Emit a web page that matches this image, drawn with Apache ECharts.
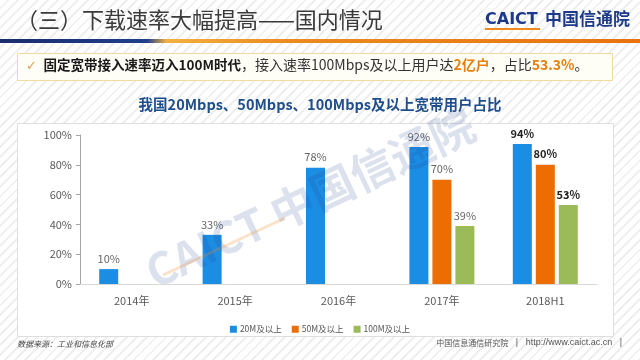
<!DOCTYPE html>
<html><head><meta charset="utf-8">
<script src="https://cdn.jsdelivr.net/npm/echarts@6/dist/echarts.min.js"></script>
<style>
html,body{margin:0;padding:0;width:640px;height:360px;overflow:hidden;
background:repeating-linear-gradient(135deg,#ffffff 0px,#ffffff 5px,#efefef 5px,#efefef 7px);}
#c{width:640px;height:360px;}
</style></head><body>
<div id="c"></div>
<script>
var categories = ['2014年','2015年','2016年','2017年','2018H1'];
var seriesNames = ['20M及以上','50M及以上','100M及以上'];
var v20 = [10, 33, 78, 92, 94];
var v50 = [null, null, null, 70, 80];
var v100 = [null, null, null, 39, 53];
var yTicks = [0, 20, 40, 60, 80, 100];
var colors = ['#1b8de3', '#ee6d02', '#9bbb59'];
var FF = '"Noto Sans CJK SC","Noto Sans",sans-serif';

function mk(arr){
  return arr.map(function(v,i){
    if(v===null) return null;
    var it = {value:v};
    if(i===arr.length-1){ it.label={fontWeight:'bold',color:'#222'}; }
    return it;
  });
}
var chart = echarts.init(document.getElementById('c'));
var lbl = {show:true,position:'top',distance:5,formatter:'{c}%',fontSize:11,color:'#666',fontFamily:FF};
chart.setOption({
  backgroundColor:'transparent',
  animation:false,
  color:colors,
  graphic:[
    {type:'text',left:16,top:9,z:10,style:{text:'（三）下载速率大幅提高——国内情况',fontSize:22,fill:'#3a3a3a',fontFamily:FF}},
    {type:'text',left:485,top:12,z:10,style:{text:'CAICT',fontSize:16,fontWeight:'bold',fill:'#1d3a8a',fontFamily:'"DejaVu Sans",sans-serif'}},
    {type:'rect',left:485,top:28,z:10,shape:{width:55,height:2},style:{fill:'#f08a1c'}},
    {type:'text',left:545,top:10,z:10,style:{text:'中国信通院',fontSize:17,fontWeight:'bold',fill:'#1d3a8a',fontFamily:FF}},
    {type:'rect',left:0,top:39,z:10,shape:{width:640,height:4},style:{fill:new echarts.graphic.LinearGradient(0,0,1,0,[
      {offset:0,color:'#1a2d6e'},{offset:0.23,color:'#1f3f8c'},{offset:0.26,color:'#f2b040'},{offset:0.45,color:'#ec8a22'},{offset:1,color:'#e8730f'}])}},
    {type:'rect',left:17,top:53,z:5,shape:{width:595,height:27},style:{fill:'#fffef6',stroke:'#f2dc9c',lineWidth:1}},
    {type:'text',left:26,top:58,z:10,style:{
      text:'{c|✓}  {b|固定宽带接入速率迈入100M时代}{n|，接入速率100Mbps及以上用户达}{o|2亿户}{n|，占比}{o|53.3%}{n|。}',
      rich:{
        c:{fontSize:13,fill:'#e0a050',fontFamily:'"DejaVu Sans",sans-serif',padding:[3,0,0,0]},
        b:{fontSize:13.5,fontWeight:'bold',fill:'#1a1a1a',fontFamily:FF},
        n:{fontSize:14,fill:'#333',fontFamily:FF},
        o:{fontSize:14,fontWeight:'bold',fill:'#e8800f',fontFamily:FF}
      }}},
    {type:'text',left:'center',top:97,z:10,style:{text:'我国20Mbps、50Mbps、100Mbps及以上宽带用户占比',fontSize:14.5,fontWeight:'bold',fill:'#1f4e8c',fontFamily:FF}},
    {type:'rect',left:17,top:123,z:-1,shape:{width:596,height:213},style:{fill:'#ffffff',stroke:'#dedede',lineWidth:1}},
    {type:'text',x:310,y:198,z:20,rotation:0.44,style:{text:'CAICT 中国信通院',align:'center',verticalAlign:'middle',fontSize:44,fontWeight:'bold',fill:'rgba(40,70,150,0.16)',fontFamily:FF}},
    {type:'line',z:20,shape:{x1:163,y1:275,x2:285,y2:218},style:{stroke:'rgba(240,140,40,0.25)',lineWidth:3}},
    {type:'text',left:17,top:340,z:10,style:{text:'数据来源：工业和信息化部',fontSize:8,fontStyle:'italic',fill:'#444',fontFamily:FF}},
    {type:'text',right:18,top:338,z:10,style:{text:'{a|中国信息通信研究院}{b|   |   http://www.caict.ac.cn   |}',
      rich:{a:{fontSize:8,fill:'#555',fontFamily:FF},b:{fontSize:9,fill:'#555',fontFamily:'"Liberation Sans",sans-serif'}}}}
  ],
  legend:{data:seriesNames,left:'center',top:320,icon:'rect',itemWidth:7,itemHeight:7,itemGap:10,itemStyle:{},
    textStyle:{fontSize:8.5,color:'#555',fontFamily:FF,padding:[0,0,0,-2]}},
  grid:{left:80,right:43,top:135,bottom:76,containLabel:false},
  xAxis:{type:'category',data:categories,
    axisLine:{lineStyle:{color:'#d9d9d9'}},axisTick:{show:false},
    axisLabel:{fontSize:11,color:'#595959',margin:11,fontFamily:FF}},
  yAxis:{type:'value',min:yTicks[0],max:yTicks[yTicks.length-1],interval:yTicks[1]-yTicks[0],
    axisLine:{show:true,lineStyle:{color:'#a6a6a6'}},
    axisTick:{show:true,length:4,lineStyle:{color:'#a6a6a6'}},
    splitLine:{show:false},
    axisLabel:{formatter:'{value}%',fontSize:11,color:'#595959',margin:8,fontFamily:FF}},
  series:[
    {name:seriesNames[0],type:'bar',barWidth:19,barGap:'21%',data:mk(v20),label:lbl},
    {name:seriesNames[1],type:'bar',barWidth:19,barGap:'21%',data:mk(v50),label:lbl},
    {name:seriesNames[2],type:'bar',barWidth:19,barGap:'21%',data:mk(v100),label:lbl}
  ]
});
</script></body></html>
